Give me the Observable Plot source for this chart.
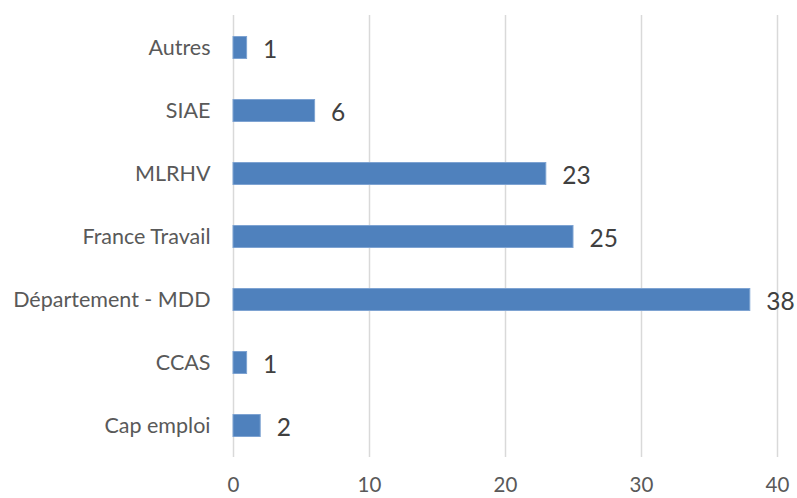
<!DOCTYPE html>
<html>
<head>
<meta charset="utf-8">
<script src="https://cdn.jsdelivr.net/npm/d3@7"></script>
<script src="https://cdn.jsdelivr.net/npm/@observablehq/plot@0.6"></script>
<style>
  html, body { margin: 0; padding: 0; background: #fff; }
  #chart svg { display: block; font-family: Lato, "Open Sans", sans-serif; overflow: visible; }
</style>
</head>
<body>
<div id="chart"></div>
<script>
const categories = ["Autres", "SIAE", "MLRHV", "France Travail", "Département - MDD", "CCAS", "Cap emploi"];
const values = [1, 6, 23, 25, 38, 1, 2];
const xTicks = [0, 10, 20, 30, 40];

const data = categories.map((c, i) => ({category: c, value: values[i]}));

const chart = Plot.plot({
  width: 797,
  height: 498,
  marginLeft: 233,
  marginRight: 20,
  marginTop: 15,
  marginBottom: 41,
  style: {fontFamily: "Lato, 'Open Sans', sans-serif", background: "#fff"},
  x: {domain: [0, 40], ticks: xTicks, label: null},
  y: {domain: categories, label: null, padding: 0},
  marks: [
    Plot.gridX(xTicks, {stroke: "#d9d9d9", strokeOpacity: 1, strokeWidth: 1.5}),
    Plot.axisX({ticks: xTicks, tickSize: 0, tickPadding: 20, fontSize: 20.5, color: "#595959", label: null}),
    Plot.axisY({tickSize: 0, tickPadding: 23, fontSize: 21.5, color: "#595959", label: null}),
    Plot.barX(data, {x: "value", y: "category", fill: "#4F81BD", stroke: "#7EA3D2", strokeWidth: 1, insetTop: 20.5, insetBottom: 20.5}),
    Plot.text(data, {x: "value", y: "category", text: d => String(d.value), textAnchor: "start", dx: 16, dy: 2, fontSize: 24.5, fill: "#404040"})
  ]
});
document.getElementById("chart").append(chart);
</script>
</body>
</html>
